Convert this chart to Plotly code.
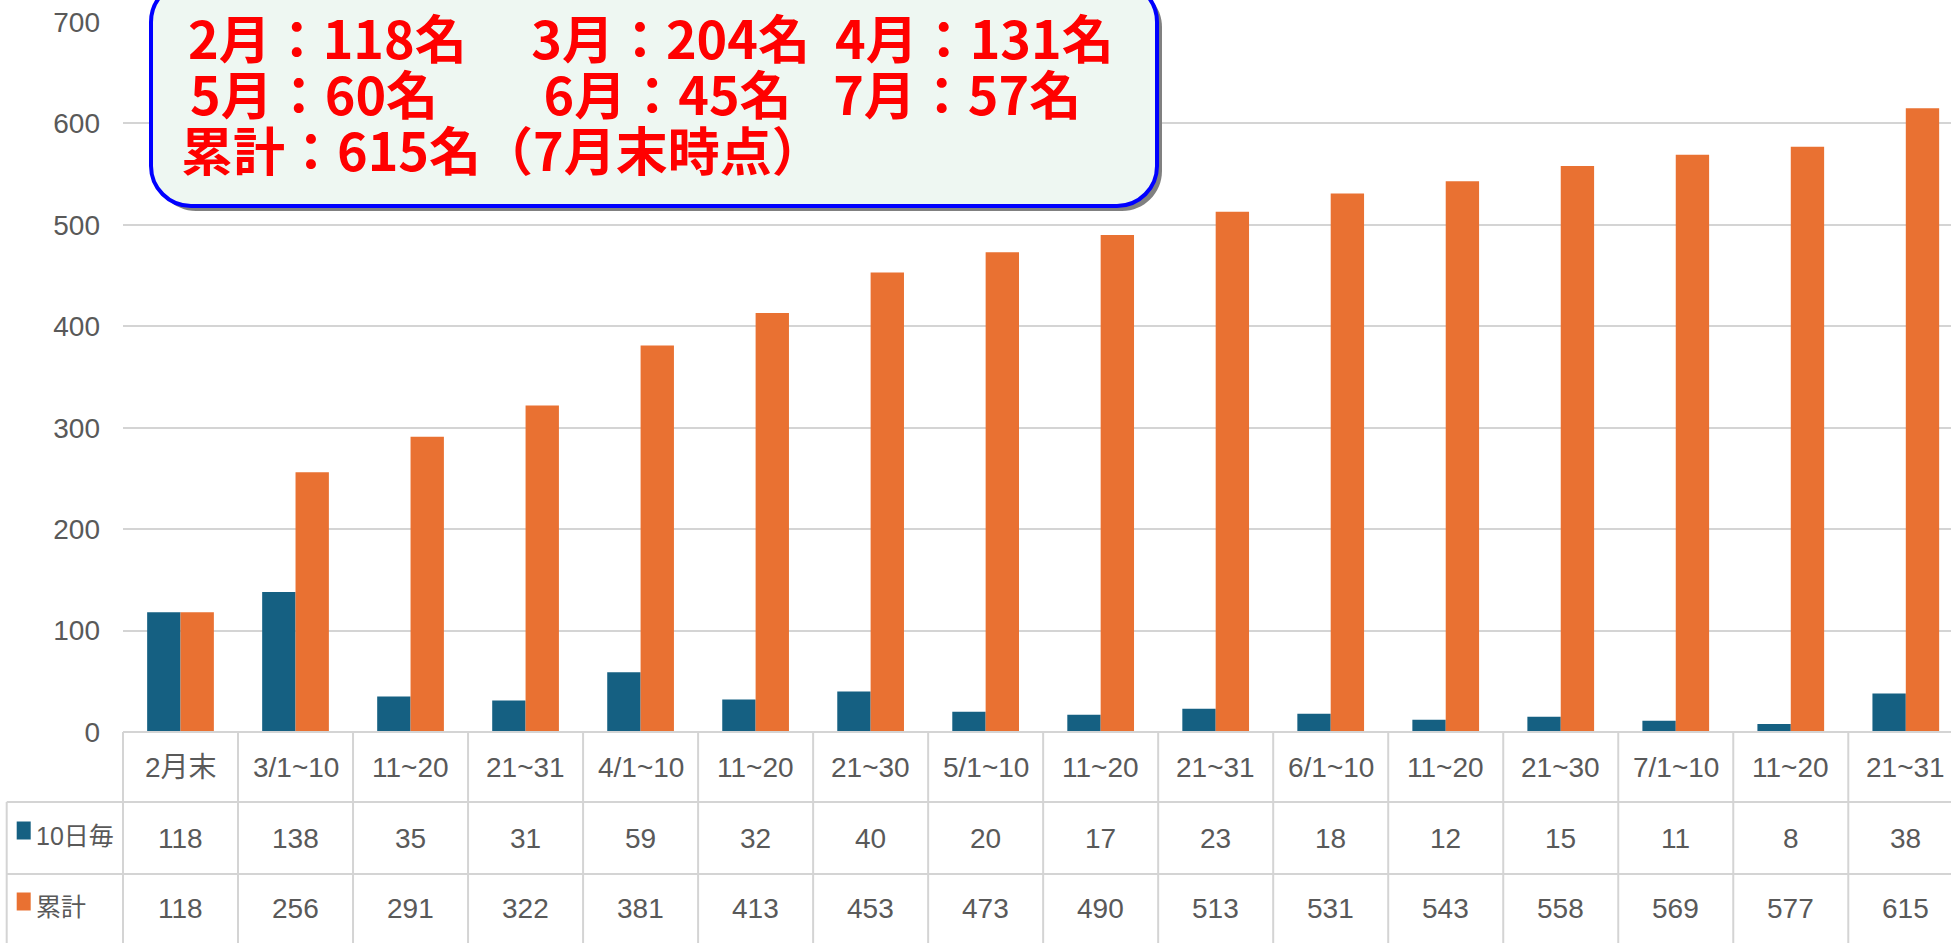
import plotly.graph_objects as go

# ---------------- data ----------------
categories = ["2月末", "3/1~10", "11~20", "21~31", "4/1~10", "11~20", "21~30",
              "5/1~10", "11~20", "21~31", "6/1~10", "11~20", "21~30",
              "7/1~10", "11~20", "21~31"]
per10 = [118, 138, 35, 31, 59, 32, 40, 20, 17, 23, 18, 12, 15, 11, 8, 38]
cumulative = [118, 256, 291, 322, 381, 413, 453, 473, 490, 513, 531, 543, 558, 569, 577, 615]
series_names = ["10日毎", "累計"]
yticks = [0, 100, 200, 300, 400, 500, 600, 700]
summary_line1 = ["2月：118名", "3月：204名", "4月：131名"]
summary_line2 = ["5月：60名", "6月：45名", "7月：57名"]
summary_line3 = ["累計：615名（7月末時点）"]

# ---------------- style / geometry ----------------
BLUE = "#156082"
ORANGE = "#E97132"
GRID = "#D4D4D4"
TXT = "#595959"
FONT = "Liberation Sans Narrow, Liberation Sans, Noto Sans CJK JP, sans-serif"
CJK_BOLD = "Noto Sans CJK JP, sans-serif"

W, H = 1951, 943
ML, MT, MB, MR = 123, 22, 211, 0
PW = W - ML - MR
PH = H - MT - MB
XR = [-0.5, 15.393]


def px(xp):
    return (xp - ML) / PW


def py(yp):
    return (MT + PH - yp) / PH


def cx(i):
    return (i - XR[0]) / (XR[1] - XR[0])


idx = list(range(len(categories)))

fig = go.Figure()
fig.add_trace(go.Bar(x=idx, y=per10, name=series_names[0], marker=dict(color=BLUE, line=dict(width=0)),
                     showlegend=False, hoverinfo="skip"))
fig.add_trace(go.Bar(x=idx, y=cumulative, name=series_names[1], marker=dict(color=ORANGE, line=dict(width=0)),
                     showlegend=False, hoverinfo="skip"))

shapes = []
annotations = []

# ---- table lines ----
ROW_TOP, ROW1, ROW2, ROW_BOT = 732, 802, 874, 943
LEG_X = 6.7


def hline(x0, x1, yp):
    shapes.append(dict(type="line", xref="paper", yref="paper", x0=x0, x1=x1, y0=py(yp), y1=py(yp),
                       line=dict(color=GRID, width=2), layer="above"))


def vline(xp_paper, y0p, y1p):
    shapes.append(dict(type="line", xref="paper", yref="paper", x0=xp_paper, x1=xp_paper, y0=py(y0p), y1=py(y1p),
                       line=dict(color=GRID, width=2), layer="above"))


hline(0, 1, ROW_TOP)
hline(px(LEG_X), 1, ROW1)
hline(px(LEG_X), 1, ROW2)
for k in range(len(categories) + 1):
    xp = cx(k - 0.5)
    if xp <= 1.0:
        vline(xp, ROW_TOP, ROW_BOT)
vline(px(LEG_X), ROW1, ROW_BOT)

# legend squares
shapes.append(dict(type="rect", xref="paper", yref="paper", x0=px(16.7), x1=px(30.7),
                   y0=py(839.5), y1=py(821.5), fillcolor=BLUE, line=dict(width=0), layer="above"))
shapes.append(dict(type="rect", xref="paper", yref="paper", x0=px(16.7), x1=px(30.7),
                   y0=py(910.5), y1=py(892.5), fillcolor=ORANGE, line=dict(width=0), layer="above"))

TFS = 28
for i, cat in enumerate(categories):
    annotations.append(dict(xref="paper", yref="paper", x=cx(i), y=py(767), text=cat, showarrow=False,
                            xanchor="center", yanchor="middle", font=dict(family=FONT, size=TFS, color=TXT)))
    annotations.append(dict(xref="paper", yref="paper", x=cx(i), y=py(838), text=str(per10[i]), showarrow=False,
                            xanchor="center", yanchor="middle", font=dict(family=FONT, size=TFS, color=TXT)))
    annotations.append(dict(xref="paper", yref="paper", x=cx(i), y=py(909), text=str(cumulative[i]), showarrow=False,
                            xanchor="center", yanchor="middle", font=dict(family=FONT, size=TFS, color=TXT)))

annotations.append(dict(xref="paper", yref="paper", x=px(34), y=py(836), text=series_names[0], showarrow=False,
                        xanchor="left", yanchor="middle", font=dict(family=FONT, size=25, color=TXT)))
annotations.append(dict(xref="paper", yref="paper", x=px(34), y=py(907), text=series_names[1], showarrow=False,
                        xanchor="left", yanchor="middle", font=dict(family=FONT, size=25, color=TXT)))

# ---- summary box ----
K = 0.5523


def rrect_path(x0, y0, x1, y1, r):
    kr = K * r
    pts = [
        ("M", [(x0 + r, y0)]),
        ("L", [(x1 - r, y0)]),
        ("C", [(x1 - r + kr, y0), (x1, y0 + r - kr), (x1, y0 + r)]),
        ("L", [(x1, y1 - r)]),
        ("C", [(x1, y1 - r + kr), (x1 - r + kr, y1), (x1 - r, y1)]),
        ("L", [(x0 + r, y1)]),
        ("C", [(x0 + r - kr, y1), (x0, y1 - r + kr), (x0, y1 - r)]),
        ("L", [(x0, y0 + r)]),
        ("C", [(x0, y0 + r - kr), (x0 + r - kr, y0), (x0 + r, y0)]),
    ]
    s = ""
    for cmd, ps in pts:
        s += cmd + " " + " ".join("%.5f,%.5f" % (px(a), py(b)) for a, b in ps) + " "
    return s + "Z"


BX0, BY0, BX1, BY1, BR = 151, -18, 1157, 206, 40
shapes.append(dict(type="path", xref="paper", yref="paper", path=rrect_path(BX0 + 5, BY0 + 5, BX1 + 5, BY1 + 5, BR),
                   fillcolor="#808080", line=dict(width=0), layer="above"))
shapes.append(dict(type="path", xref="paper", yref="paper", path=rrect_path(BX0, BY0, BX1, BY1, BR),
                   fillcolor="#EEF7F2", line=dict(color="#0000FF", width=4), layer="above"))

BASE_FS = 43   # base size -> line spacing 1.3 * 43 ~ 56 px


def sp(w):
    return '<span style="font-size:%.1fpx">\u3000</span>' % w


def seg(t, size):
    return '<span style="font-size:%dpx">%s</span>' % (size, t)


line1 = sp(7) + seg(summary_line1[0], 52) + sp(64.5) + seg(summary_line1[1], 52) + sp(25) + seg(summary_line1[2], 52)
line2 = sp(9) + seg(summary_line2[0], 52) + sp(105.5) + seg(summary_line2[1], 52) + sp(41.5) + seg(summary_line2[2], 52)
line3 = seg(summary_line3[0], 52)
annotations.append(dict(xref="paper", yref="paper", x=px(179), y=py(84.5), text="<br>".join([line1, line2, line3]),
                        showarrow=False, xanchor="left", yanchor="middle", align="left",
                        font=dict(family=CJK_BOLD, size=BASE_FS, color="#FF0000", weight="bold")))

fig.update_layout(
    width=W, height=H,
    margin=dict(l=ML, r=MR, t=MT, b=MB, pad=0),
    paper_bgcolor="white", plot_bgcolor="white",
    barmode="group", bargap=0.42, bargroupgap=0,
    showlegend=False,
    xaxis=dict(range=XR, showgrid=False, showticklabels=False, zeroline=False, showline=False, ticks=""),
    yaxis=dict(range=[0, 700], tickvals=yticks, ticktext=[str(v) for v in yticks], showgrid=True,
               gridcolor=GRID, gridwidth=2, zeroline=False, showline=False, ticks="",
               tickfont=dict(family=FONT, size=28, color=TXT), ticklabelstandoff=22),
    shapes=shapes,
    annotations=annotations,
)

fig.write_html("out.html", config={"displayModeBar": False, "staticPlot": True},
               post_script="document.body.style.margin='0px';document.body.style.overflow='hidden';")
